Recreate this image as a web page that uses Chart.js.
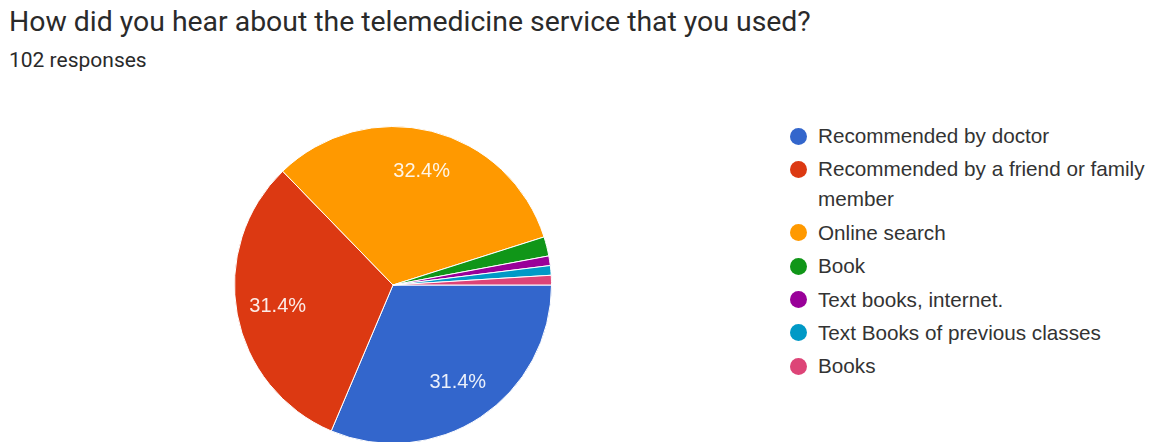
<!DOCTYPE html>
<html lang="en">
<head>
  <meta charset="UTF-8">
  <meta name="viewport" content="width=device-width, initial-scale=1.0">
  <title>Telemedicine survey</title>
  <style>
    body {
      margin: 0;
      width: 1163px;
      height: 442px;
      overflow: hidden;
      background: #fff;
      position: relative;
      font-family: Roboto, "Liberation Sans", sans-serif;
    }
    h1 {
      position: absolute;
      left: 9px;
      top: 4px;
      margin: 0;
      font-size: 28.4px;
      line-height: 36px;
      font-weight: 400;
      color: #2a2a2a;
    }
    .count {
      position: absolute;
      left: 9px;
      top: 48px;
      font-size: 21px;
      line-height: 24px;
      color: #2a2a2a;
    }
    #pie-wrap {
      position: absolute;
      left: 234px;
      top: 126px;
      width: 318px;
      height: 318px;
    }
    #legend {
      position: absolute;
      left: 790px;
      top: 121px;
      margin: 0;
      padding: 0;
      list-style: none;
      font-family: "Liberation Sans", Arial, sans-serif;
      font-size: 20.7px;
      color: #333;
    }
    #legend li {
      display: flex;
      align-items: flex-start;
      margin-bottom: 3.4px;
    }
    #legend li span.dot {
      flex: none;
      width: 17px;
      height: 17px;
      border-radius: 50%;
      margin: 6.5px 11px 0 0;
    }
    #legend li span.txt {
      width: 345px;
      line-height: 30px;
    }
  </style>
</head>
<body>
  <h1>How did you hear about the telemedicine service that you used?</h1>
  <div class="count">102 responses</div>
  <div id="pie-wrap"><canvas id="pie-chart"></canvas></div>
  <ul id="legend"></ul>
  <script src="https://cdn.jsdelivr.net/npm/chart.js@4.4.9/dist/chart.umd.min.js"></script>
  <script>
    const answers = [
      'Recommended by doctor',
      'Recommended by a friend or family member',
      'Online search',
      'Book',
      'Text books, internet.',
      'Text Books of previous classes',
      'Books'
    ]
    const responses = [32, 32, 33, 2, 1, 1, 1]
    const colors = ['#3366cc', '#dc3912', '#ff9900', '#109618', '#990099', '#0099c6', '#dd4477']

    // percentage text inside the bigger slices
    const sliceLabels = {
      id: 'sliceLabels',
      afterDatasetsDraw(chart) {
        const ctx = chart.ctx
        const data = chart.data.datasets[0].data
        const total = data.reduce((a, b) => a + b, 0)
        ctx.save()
        ctx.font = '20px "Liberation Sans", Arial, sans-serif'
        ctx.fillStyle = 'rgba(255, 255, 255, 0.9)'
        ctx.textAlign = 'center'
        ctx.textBaseline = 'middle'
        chart.getDatasetMeta(0).data.forEach((arc, i) => {
          const pct = data[i] / total * 100
          if (pct < 5) return
          const mid = (arc.startAngle + arc.endAngle) / 2
          const r = arc.outerRadius * 0.74
          ctx.fillText(pct.toFixed(1) + '%', arc.x + Math.cos(mid) * r, arc.y + Math.sin(mid) * r)
        })
        ctx.restore()
      }
    }

    const chart = new Chart(document.getElementById('pie-chart'), {
      type: 'pie',
      data: {
        labels: answers,
        datasets: [{
          data: responses,
          backgroundColor: colors,
          borderColor: '#fff',
          borderWidth: 1
        }]
      },
      options: {
        responsive: true,
        maintainAspectRatio: false,
        animation: false,
        rotation: 90,
        plugins: {
          legend: { display: false },
          tooltip: { enabled: false }
        }
      },
      plugins: [sliceLabels]
    })

    const legend = document.getElementById('legend')
    answers.forEach((name, i) => {
      const li = document.createElement('li')
      const dot = document.createElement('span')
      dot.className = 'dot'
      dot.style.background = colors[i]
      const txt = document.createElement('span')
      txt.className = 'txt'
      txt.textContent = name
      li.append(dot, txt)
      legend.append(li)
    })
  </script>
</body>
</html>
